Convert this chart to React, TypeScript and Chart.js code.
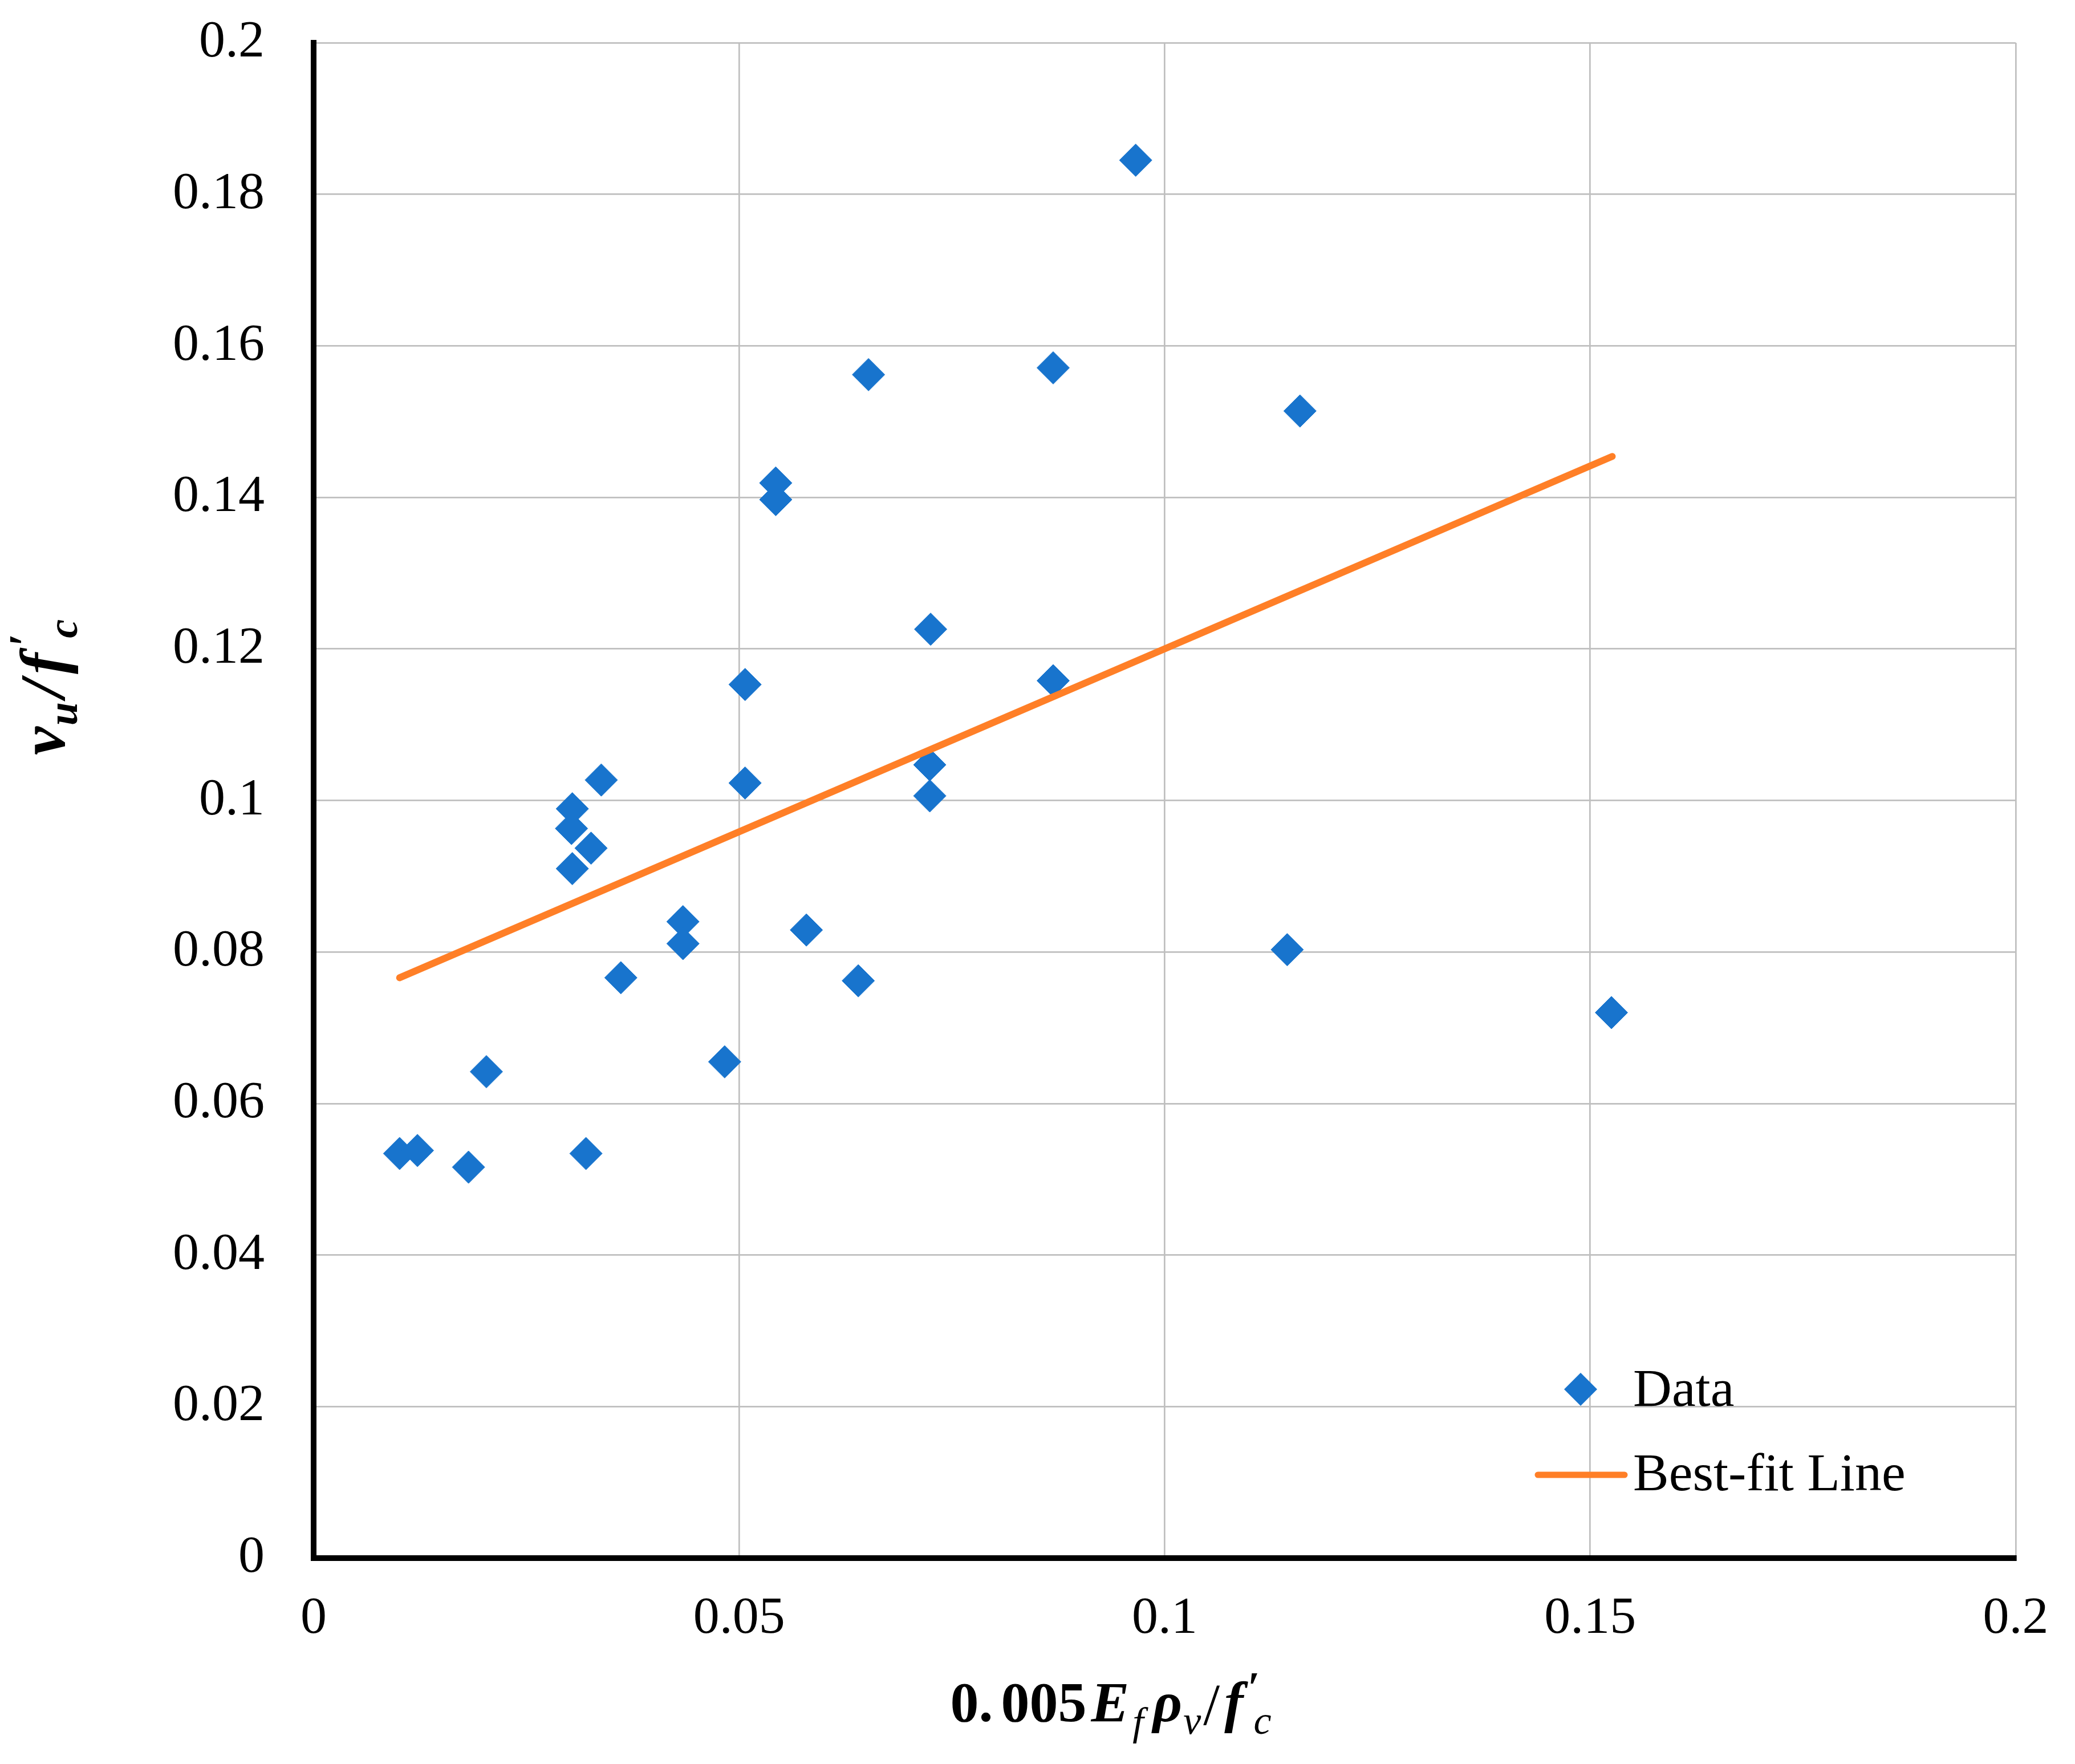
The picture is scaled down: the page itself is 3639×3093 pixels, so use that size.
import React, { useEffect, useRef } from "react";
import { Chart, registerables } from "chart.js";

Chart.register(...registerables);

// ---- data ----
const dataX = [
  0.0101, 0.0122, 0.0182, 0.0203, 0.0304, 0.0303, 0.0326, 0.0304, 0.0338, 0.0361,
  0.032, 0.0434, 0.0434, 0.0483, 0.0507, 0.0507, 0.0543, 0.0543, 0.0579, 0.064,
  0.0652, 0.0725, 0.0724, 0.0724, 0.0869, 0.0869, 0.0966, 0.1144, 0.1159, 0.1525,
];
const dataY = [
  0.0534, 0.0538, 0.0516, 0.0642, 0.0989, 0.0963, 0.0937, 0.091, 0.1027, 0.0766,
  0.0534, 0.084, 0.0811, 0.0655, 0.1153, 0.1023, 0.1419, 0.1397, 0.0829, 0.0762,
  0.1562, 0.1226, 0.1047, 0.1006, 0.1571, 0.1158, 0.1845, 0.0803, 0.1514, 0.072,
];
const fitX = [0.0101, 0.1526];
const fitY = [0.0766, 0.1454];
const xTicks = [0, 0.05, 0.1, 0.15, 0.2];
const yTicks = [0, 0.02, 0.04, 0.06, 0.08, 0.1, 0.12, 0.14, 0.16, 0.18, 0.2];
const seriesNames = ["Data", "Best-fit Line"];

const BLUE = "#1874CD";
const ORANGE = "#FF7F27";
const SERIF = '"Liberation Serif", "Times New Roman", serif';

type Seg = { t: string; font: string; dy?: number; gap?: number; noAdvance?: boolean };

function drawSegs(ctx: CanvasRenderingContext2D, segs: Seg[], cx: number, baseY: number) {
  const ws = segs.map((s) => {
    ctx.font = s.font;
    return ctx.measureText(s.t).width;
  });
  let total = 0;
  segs.forEach((s, i) => {
    total += (s.gap || 0) + (s.noAdvance ? 0 : ws[i]);
  });
  let x = cx - total / 2;
  ctx.textAlign = "left";
  ctx.textBaseline = "alphabetic";
  segs.forEach((s, i) => {
    x += s.gap || 0;
    ctx.font = s.font;
    ctx.fillText(s.t, x, baseY + (s.dy || 0));
    if (!s.noAdvance) x += ws[i];
  });
}

const overlayPlugin = {
  id: "overlay",
  afterDraw(chart: any) {
    const ctx: CanvasRenderingContext2D = chart.ctx;
    const area = chart.chartArea;
    ctx.save();
    ctx.fillStyle = "#000";

    // Legend
    const lx = area.right - 763;
    const dyData = area.bottom - 296;
    const dyFit = area.bottom - 146;
    ctx.fillStyle = BLUE;
    ctx.beginPath();
    const r = 29;
    ctx.moveTo(lx - r, dyData);
    ctx.lineTo(lx, dyData - r);
    ctx.lineTo(lx + r, dyData);
    ctx.lineTo(lx, dyData + r);
    ctx.closePath();
    ctx.fill();
    ctx.strokeStyle = ORANGE;
    ctx.lineWidth = 11;
    ctx.lineCap = "round";
    ctx.beginPath();
    ctx.moveTo(lx - 75, dyFit);
    ctx.lineTo(lx + 77, dyFit);
    ctx.stroke();
    ctx.fillStyle = "#000";
    ctx.font = `94px ${SERIF}`;
    ctx.textAlign = "left";
    ctx.textBaseline = "alphabetic";
    ctx.fillText(seriesNames[0], lx + 92, dyData + 29);
    ctx.fillText(seriesNames[1], lx + 92, dyFit + 27);

    // X axis title: 0.005 E_f ρ_v / f'_c
    const BI = `italic bold 100px ${SERIF}`;
    const I = `italic 70px ${SERIF}`;
    const B = `bold 100px ${SERIF}`;
    drawSegs(
      ctx,
      [
        { t: "0.", font: B },
        { t: "005", font: B, gap: 14 },
        { t: "E", font: BI, gap: 8 },
        { t: "f", font: I, dy: 24, gap: 6 },
        { t: "ρ", font: BI, gap: 16 },
        { t: "v", font: I, dy: 22, gap: 2 },
        { t: "/", font: `104px ${SERIF}`, dy: 6, gap: 4 },
        { t: "f", font: BI, gap: 8 },
        { t: "′", font: `bold 76px ${SERIF}`, dy: -34, gap: 8, noAdvance: true },
        { t: "c", font: I, dy: 22, gap: 10 },
      ],
      1948,
      3018
    );

    // Y axis title: v_u / f'_c (rotated)
    ctx.save();
    ctx.translate(113, 1205);
    ctx.rotate(-Math.PI / 2);
    const BIy = `italic bold 112px ${SERIF}`;
    const Sy = `italic bold 74px ${SERIF}`;
    drawSegs(
      ctx,
      [
        { t: "v", font: BIy },
        { t: "u", font: Sy, dy: 22, gap: 2 },
        { t: "/", font: BIy, gap: 8 },
        { t: "f", font: BIy, gap: 10 },
        { t: "′", font: `bold 80px ${SERIF}`, dy: -42, gap: 12, noAdvance: true },
        { t: "c", font: Sy, dy: 22, gap: 14 },
      ],
      0,
      0
    );
    ctx.restore();
    ctx.restore();
  },
};

export default function App() {
  const canvasRef = useRef<HTMLCanvasElement | null>(null);

  useEffect(() => {
    const canvas = canvasRef.current;
    if (!canvas) return;
    const chart = new Chart(canvas, {
      type: "scatter",
      data: {
        datasets: [
          {
            type: "line",
            label: seriesNames[1],
            data: fitX.map((x, i) => ({ x, y: fitY[i] })),
            borderColor: ORANGE,
            borderWidth: 12,
            borderCapStyle: "round",
            pointRadius: 0,
            fill: false,
            tension: 0,
            order: 0,
          } as any,
          {
            type: "scatter",
            label: seriesNames[0],
            data: dataX.map((x, i) => ({ x, y: dataY[i] })),
            backgroundColor: BLUE,
            borderColor: BLUE,
            borderWidth: 1,
            pointStyle: "rectRot",
            pointRadius: 28.5,
            pointHoverRadius: 28.5,
            order: 1,
          } as any,
        ],
      },
      options: {
        animation: false,
        responsive: false,
        devicePixelRatio: 1,
        events: [],
        layout: { padding: { left: 0, right: 104, top: 75, bottom: 0 } },
        plugins: {
          legend: { display: false },
          tooltip: { enabled: false },
          title: { display: false },
        },
        scales: {
          x: {
            type: "linear",
            min: 0,
            max: 0.2,
            afterBuildTicks: (s: any) => {
              s.ticks = xTicks.map((v) => ({ value: v }));
            },
            afterFit: (s: any) => {
              s.height = 361;
              s.paddingLeft = 0;
              s.paddingRight = 0;
            },
            ticks: {
              callback: (v: any) => String(v),
              font: { family: SERIF, size: 92 },
              color: "#000",
              padding: 52,
              maxRotation: 0,
              autoSkip: false,
            },
            grid: { color: "#bfbfbf", lineWidth: 2.7, drawTicks: false },
            border: { display: true, color: "#000", width: 10 },
            title: { display: false },
          },
          y: {
            type: "linear",
            min: 0,
            max: 0.2,
            afterBuildTicks: (s: any) => {
              s.ticks = yTicks.map((v) => ({ value: v }));
            },
            afterFit: (s: any) => {
              s.width = 550;
              s.paddingTop = 0;
              s.paddingBottom = 0;
            },
            ticks: {
              callback: (v: any) => String(v),
              font: { family: SERIF, size: 92 },
              color: "#000",
              padding: 86,
              autoSkip: false,
            },
            grid: { color: "#bfbfbf", lineWidth: 2.7, drawTicks: false },
            border: { display: true, color: "#000", width: 10 },
            title: { display: false },
          },
        },
      } as any,
      plugins: [overlayPlugin],
    });
    return () => chart.destroy();
  }, []);

  return (
    <div
      style={{
        position: "absolute",
        left: 0,
        top: 0,
        width: 3639,
        height: 3093,
        background: "#fff",
      }}
    >
      <canvas ref={canvasRef} width={3639} height={3093} style={{ width: 3639, height: 3093 }} />
    </div>
  );
}
